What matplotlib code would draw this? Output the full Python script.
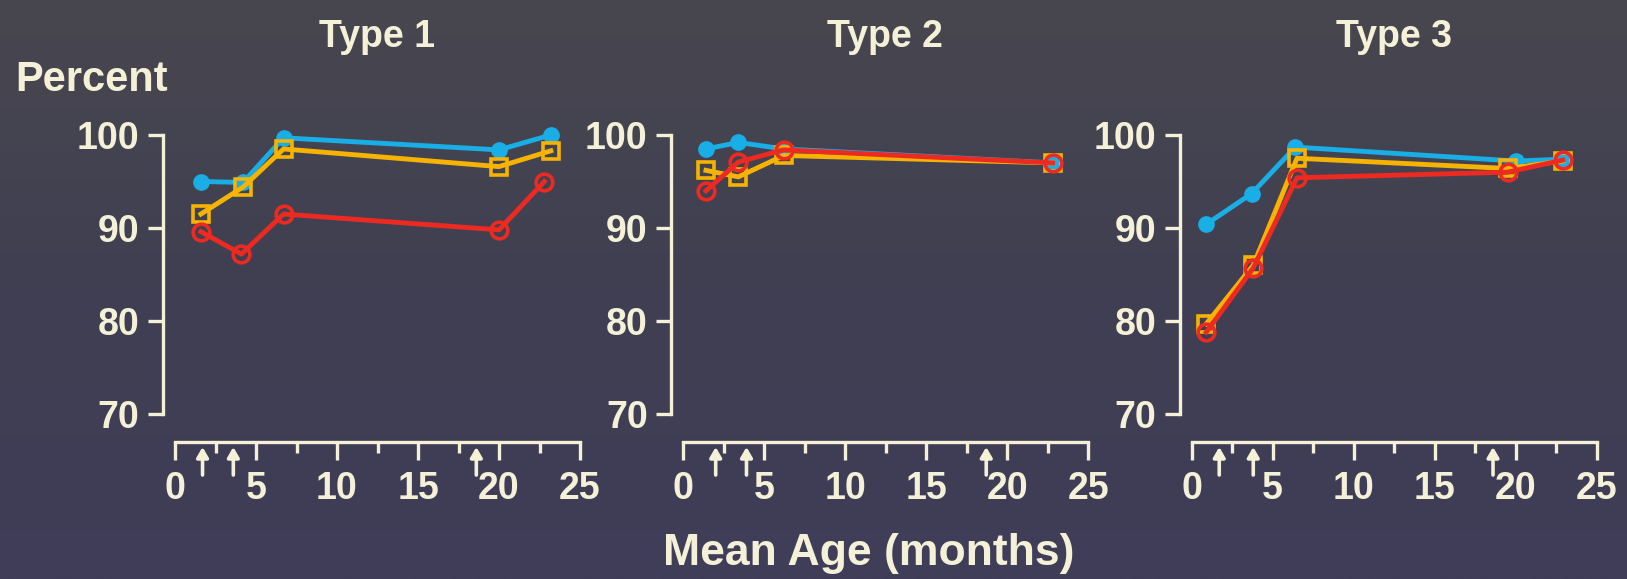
import numpy as np
import matplotlib
matplotlib.use('Agg')
import matplotlib.pyplot as plt
from matplotlib.ticker import MultipleLocator
from matplotlib.colors import LinearSegmentedColormap

# data
titles = ['Type 1', 'Type 2', 'Type 3']

t1_age = [1.6, 4.2, 6.7, 20.0, 23.2]
t1_age_red = [1.6, 4.1, 6.7, 20.0, 22.8]
t1_blue = [95.0, 94.9, 99.7, 98.4, 100.0]
t1_orange = [91.5, 94.4, 98.5, 96.6, 98.3]
t1_red = [89.6, 87.2, 91.5, 89.8, 95.0]

t2_age = [1.4, 3.4, 6.2, 22.8]
t2_blue = [98.5, 99.2, 98.5, 97.0]
t2_orange = [96.2, 95.5, 97.8, 97.0]
t2_red = [94.0, 97.1, 98.4, 97.0]

t3_age = [0.9, 3.8, 6.5, 19.5, 22.9]
t3_age_blue = [0.9, 3.7, 6.4, 20.0, 22.9]
t3_blue = [90.4, 93.7, 98.7, 97.2, 97.4]
t3_orange = [79.7, 86.0, 97.5, 96.4, 97.2]
t3_red = [78.8, 85.7, 95.4, 96.0, 97.3]

arrows = [[1.7, 3.6, 18.6], [2.0, 3.9, 18.7], [1.7, 3.8, 18.6]]

panels = [
    (t1_age, t1_blue, t1_age, t1_orange, t1_age_red, t1_red),
    (t2_age, t2_blue, t2_age, t2_orange, t2_age, t2_red),
    (t3_age_blue, t3_blue, t3_age, t3_orange, t3_age, t3_red),
]

fg = '#f4f1d8'
blue = '#1aaee6'
orange = '#f6b400'
red = '#ec2a22'
font = ['Liberation Sans', 'DejaVu Sans']

W, H = 1627, 579
fig = plt.figure(figsize=(W / 100, H / 100), dpi=100)

bg = fig.add_axes([0, 0, 1, 1], zorder=-10)
grad = np.linspace(0, 1, 256).reshape(-1, 1)
cmap = LinearSegmentedColormap.from_list('bg', ['#3f3d58', '#403f52', '#48474f'])
bg.imshow(grad, aspect='auto', extent=[0, 1, 0, 1], origin='lower', cmap=cmap)
bg.axis('off')

lefts = [175, 683.3, 1191.7]
for i, left in enumerate(lefts):
    ax = fig.add_axes([left / W, 165 / H, 405 / W, 279 / H])
    ax.patch.set_visible(False)
    xb, yb, xo, yo, xr, yr = panels[i]
    ax.plot(xb, yb, '-o', color=blue, lw=3.5, ms=11, mfc=blue, mec=blue, clip_on=False, zorder=3)
    ax.plot(xo, yo, '-s', color=orange, lw=3.5, ms=12, mfc='none', mec=orange, mew=2.6, clip_on=False, zorder=4)
    ax.plot(xr, yr, '-o', color=red, lw=3.5, ms=12, mfc='none', mec=red, mew=2.6, clip_on=False, zorder=5)

    ax.set_xlim(0, 25)
    ax.set_ylim(70, 100)
    for s in ['top', 'right']:
        ax.spines[s].set_visible(False)
    ax.spines['left'].set_position(('outward', 8.6))
    ax.spines['bottom'].set_position(('outward', 20))
    for s in ['left', 'bottom']:
        ax.spines[s].set_color(fg)
        ax.spines[s].set_linewidth(2.4)
    ax.xaxis.set_major_locator(MultipleLocator(5))
    ax.xaxis.set_minor_locator(MultipleLocator(2.5))
    ax.yaxis.set_major_locator(MultipleLocator(10))
    ax.tick_params(axis='x', which='major', length=13, width=2.4, color=fg, pad=8)
    ax.tick_params(axis='x', which='minor', length=8, width=2.4, color=fg)
    ax.tick_params(axis='y', length=11, width=2.4, color=fg, pad=6)
    for lab in ax.get_xticklabels() + ax.get_yticklabels():
        lab.set_family(font)
        lab.set_fontweight('bold')
        lab.set_fontsize(27)
        lab.set_color(fg)

    for a in arrows[i]:
        ax.annotate('', xy=(a, -33 / 279), xycoords=('data', 'axes fraction'),
                    xytext=(a, -61 / 279), textcoords=('data', 'axes fraction'),
                    arrowprops=dict(arrowstyle='-|>,head_length=0.6,head_width=0.35',
                                    color=fg, lw=2.6, shrinkA=0, shrinkB=0),
                    annotation_clip=False)

    fig.text((left + 202) / W, 1 - 37 / H, titles[i], ha='center', va='center',
             family=font, fontweight='bold', fontsize=27, color=fg)

fig.text(92 / W, 1 - 80 / H, 'Percent', ha='center', va='center',
         family=font, fontweight='bold', fontsize=30, color=fg)
fig.text(869 / W, 1 - 553 / H, 'Mean Age (months)', ha='center', va='center',
         family=font, fontweight='bold', fontsize=32, color=fg)

fig.savefig('out.png', dpi=100, facecolor=fig.get_facecolor())
